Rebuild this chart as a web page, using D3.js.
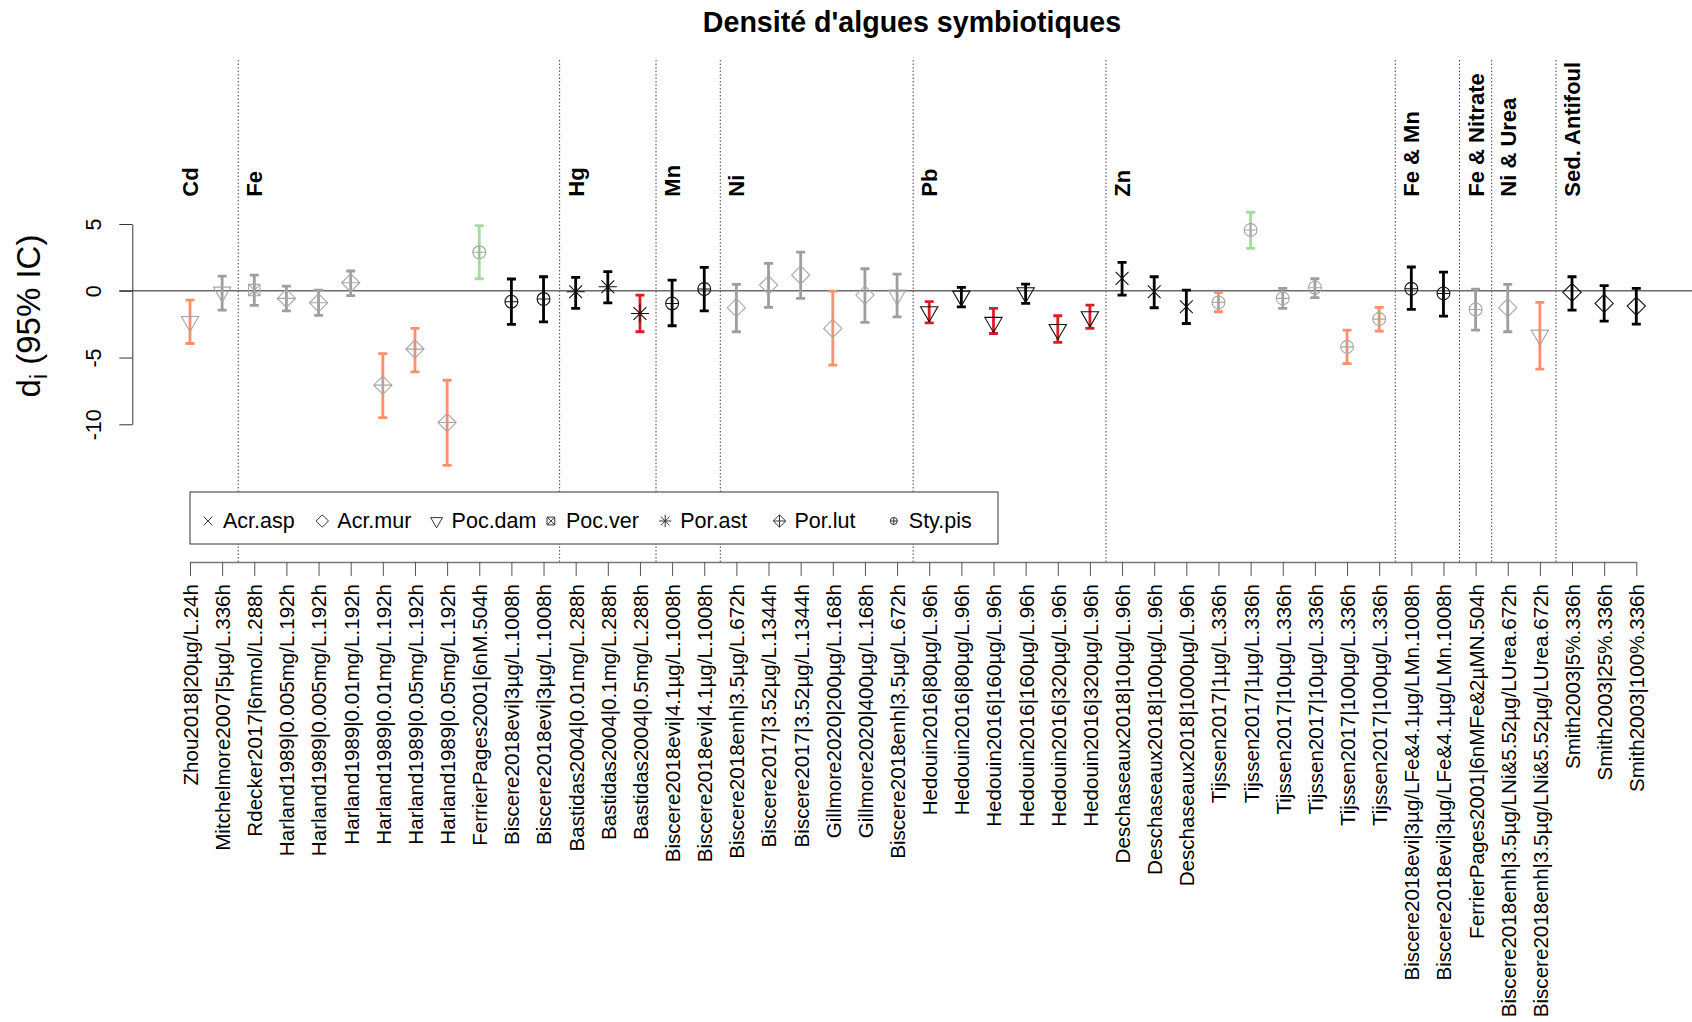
<!DOCTYPE html>
<html>
<head>
<meta charset="utf-8">
<script src="https://cdn.jsdelivr.net/npm/d3@7"></script>
<style>
  body { margin: 0; background: #fff; }
  svg { font-family: "Liberation Sans", Arial, sans-serif; }
</style>
</head>
<body>
<div id="wrapper"></div>
<script>

// data
const labels = [
  "Zhou2018|20µg/L.24h", "Mitchelmore2007|5µg/L.336h", "Rdecker2017|6nmol/L.288h",
  "Harland1989|0.005mg/L.192h", "Harland1989|0.005mg/L.192h", "Harland1989|0.01mg/L.192h",
  "Harland1989|0.01mg/L.192h", "Harland1989|0.05mg/L.192h", "Harland1989|0.05mg/L.192h",
  "FerrierPages2001|6nM.504h", "Biscere2018evi|3µg/L.1008h", "Biscere2018evi|3µg/L.1008h",
  "Bastidas2004|0.01mg/L.288h", "Bastidas2004|0.1mg/L.288h", "Bastidas2004|0.5mg/L.288h",
  "Biscere2018evi|4.1µg/L.1008h", "Biscere2018evi|4.1µg/L.1008h", "Biscere2018enh|3.5µg/L.672h",
  "Biscere2017|3.52µg/L.1344h", "Biscere2017|3.52µg/L.1344h", "Gillmore2020|200µg/L.168h",
  "Gillmore2020|400µg/L.168h", "Biscere2018enh|3.5µg/L.672h", "Hedouin2016|80µg/L.96h",
  "Hedouin2016|80µg/L.96h", "Hedouin2016|160µg/L.96h", "Hedouin2016|160µg/L.96h",
  "Hedouin2016|320µg/L.96h", "Hedouin2016|320µg/L.96h", "Deschaseaux2018|10µg/L.96h",
  "Deschaseaux2018|100µg/L.96h", "Deschaseaux2018|1000µg/L.96h", "Tijssen2017|1µg/L.336h",
  "Tijssen2017|1µg/L.336h", "Tijssen2017|10µg/L.336h", "Tijssen2017|10µg/L.336h",
  "Tijssen2017|100µg/L.336h", "Tijssen2017|100µg/L.336h",
  "Biscere2018evi|3µg/LFe&4.1µg/LMn.1008h", "Biscere2018evi|3µg/LFe&4.1µg/LMn.1008h",
  "FerrierPages2001|6nMFe&2µMN.504h",
  "Biscere2018enh|3.5µg/LNi&5.52µg/LUrea.672h", "Biscere2018enh|3.5µg/LNi&5.52µg/LUrea.672h",
  "Smith2003|5%.336h", "Smith2003|25%.336h", "Smith2003|100%.336h",
]

const means = [-2.3, -0.1, 0.05, -0.57, -0.9, 0.6, -7.07, -4.37, -9.87, 2.88,
  -0.82, -0.62, -0.07, 0.3, -1.7, -0.95, 0.13, -1.27, 0.43, 1.18,
  -2.82, -0.32, -0.33, -1.57, -0.4, -2.37, -0.15, -2.9, -1.95, 0.93,
  -0.07, -1.2, -0.87, 4.55, -0.57, 0.23, -4.2, -2.12, 0.15, -0.2,
  -1.4, -1.27, -3.32, -0.12, -0.95, -1.15]

const lower = [-3.95, -1.45, -1.1, -1.5, -1.85, -0.37, -9.5, -6.07, -13.07, 0.9,
  -2.52, -2.33, -1.32, -0.9, -3.07, -2.62, -1.5, -3.07, -1.25, -0.57,
  -5.57, -2.37, -1.95, -2.4, -1.2, -3.2, -0.95, -3.87, -2.82, -0.32,
  -1.27, -2.45, -1.57, 3.18, -1.32, -0.52, -5.45, -3.02, -1.4, -1.9,
  -2.95, -3.07, -5.87, -1.45, -2.27, -2.5]

const upper = [-0.7, 1.1, 1.17, 0.35, 0.05, 1.48, -4.7, -2.82, -6.7, 4.88,
  0.88, 1.05, 1.0, 1.43, -0.32, 0.8, 1.75, 0.48, 2.05, 2.9,
  -0.02, 1.65, 1.25, -0.82, 0.25, -1.32, 0.5, -1.87, -1.07, 2.13,
  1.05, 0.05, -0.12, 5.88, 0.18, 0.9, -2.95, -1.25, 1.78, 1.4,
  0.13, 0.48, -0.87, 1.05, 0.38, 0.18]

const species = [
  "Poc.dam", "Poc.dam", "Poc.ver", "Por.lut", "Por.lut", "Por.lut", "Por.lut", "Por.lut", "Por.lut", "Sty.pis",
  "Sty.pis", "Sty.pis", "Por.ast", "Por.ast", "Por.ast", "Sty.pis", "Sty.pis", "Acr.mur", "Acr.mur", "Acr.mur",
  "Acr.mur", "Acr.mur", "Poc.dam", "Poc.dam", "Poc.dam", "Poc.dam", "Poc.dam", "Poc.dam", "Poc.dam", "Acr.asp",
  "Acr.asp", "Acr.asp", "Sty.pis", "Sty.pis", "Sty.pis", "Sty.pis", "Sty.pis", "Sty.pis", "Sty.pis", "Sty.pis",
  "Sty.pis", "Acr.mur", "Poc.dam", "Acr.mur", "Acr.mur", "Acr.mur",
]

// "a" studies are drawn black/red, "b" studies grey/salmon/green
const studySet = [
  "b", "b", "b", "b", "b", "b", "b", "b", "b", "b",
  "a", "a", "a", "a", "a", "a", "a", "b", "b", "b",
  "b", "b", "b", "a", "a", "a", "a", "a", "a", "a",
  "a", "a", "b", "b", "b", "b", "b", "b", "a", "a",
  "b", "b", "b", "a", "a", "a",
]

const effect = [
  "neg", "ns", "ns", "ns", "ns", "ns", "neg", "neg", "neg", "pos",
  "ns", "ns", "ns", "ns", "neg", "ns", "ns", "ns", "ns", "ns",
  "neg", "ns", "ns", "neg", "ns", "neg", "ns", "neg", "neg", "ns",
  "ns", "ns", "neg", "pos", "ns", "ns", "neg", "neg", "ns", "ns",
  "ns", "ns", "neg", "ns", "ns", "ns",
]

const groupNames = ["Cd", "Fe", "Hg", "Mn", "Ni", "Pb", "Zn",
  "Fe & Mn", "Fe & Nitrate", "Ni & Urea", "Sed. Antifoul"]
const groupSizes = [2, 10, 3, 2, 6, 6, 9, 2, 1, 2, 3]

const legendNames = ["Acr.asp", "Acr.mur", "Poc.dam", "Poc.ver", "Por.ast", "Por.lut", "Sty.pis"]
const yTicks = [-10, -5, 0, 5]


const dataset = labels.map((label, i) => ({
  i: i + 1,
  label,
  mean: means[i],
  lo: lower[i],
  hi: upper[i],
  species: species[i],
  set: studySet[i],
  effect: effect[i],
}))

const xAccessor = d => d.i
const yAccessor = d => d.mean


// dimensions
const width = 1692
const height = 1022
const fontBase = 21.5

const wrapper = d3.select("#wrapper")
  .append("svg")
    .attr("width", width)
    .attr("height", height)


// scales
const xScale = d3.scaleLinear()
  .domain([1, labels.length])
  .range([190, 1636.3])

const yScale = d3.scaleLinear()
  .domain([-10, 5])
  .range([424.3, 224])

const axisY = 562

const barColor = d => {
  if (d.set == "a") return d.effect == "neg" ? "#d81f26" : "#000000"
  if (d.effect == "neg") return "#fc8f6c"
  if (d.effect == "pos") return "#a3dc9b"
  return "#9e9e9e"
}
const pointColor = d => d.set == "a" ? "#111111" : "#a6a6a6"


// R-like plotting symbols
function symbolPath(name, r) {
  const p = d3.path()
  const d = Math.SQRT2 * r
  if (name == "Acr.asp" || name == "Por.ast") {
    p.moveTo(-r, -r); p.lineTo(r, r)
    p.moveTo(-r, r); p.lineTo(r, -r)
  }
  if (name == "Por.ast") {
    p.moveTo(-d, 0); p.lineTo(d, 0)
    p.moveTo(0, -d); p.lineTo(0, d)
  }
  if (name == "Acr.mur" || name == "Por.lut") {
    p.moveTo(0, -d); p.lineTo(d, 0); p.lineTo(0, d); p.lineTo(-d, 0); p.closePath()
  }
  if (name == "Por.lut") {
    p.moveTo(-d, 0); p.lineTo(d, 0)
    p.moveTo(0, -d); p.lineTo(0, d)
  }
  if (name == "Poc.dam") {
    const xc = 1.3468 * r
    const yc = 0.7776 * r
    p.moveTo(-xc, -yc); p.lineTo(xc, -yc); p.lineTo(0, 1.5551 * r); p.closePath()
  }
  if (name == "Poc.ver") {
    const s = 0.886 * r
    p.rect(-s, -s, 2 * s, 2 * s)
    p.moveTo(-s, -s); p.lineTo(s, s)
    p.moveTo(-s, s); p.lineTo(s, -s)
  }
  if (name == "Sty.pis") {
    p.moveTo(r, 0); p.arc(0, 0, r, 0, 2 * Math.PI)
    p.moveTo(-r, 0); p.lineTo(r, 0)
    p.moveTo(0, -r); p.lineTo(0, r)
  }
  return p.toString()
}


// title
wrapper.append("text")
    .attr("x", 912)
    .attr("y", 32)
    .attr("text-anchor", "middle")
    .style("font-weight", "bold")
    .style("font-size", "28.6px")
    .text("Densité d'algues symbiotiques")


// group separators and names
const groupStarts = d3.cumsum([0, ...groupSizes]).slice(0, groupSizes.length)

wrapper.selectAll(".separator")
    .data(groupStarts.slice(1))
  .join("line")
    .attr("class", "separator")
    .attr("x1", d => xScale(d + 0.5))
    .attr("x2", d => xScale(d + 0.5))
    .attr("y1", 60)
    .attr("y2", axisY)
    .attr("stroke", "#444")
    .attr("stroke-width", 1)
    .attr("stroke-dasharray", "1.5,2")

wrapper.selectAll(".groupName")
    .data(groupNames)
  .join("text")
    .attr("class", "groupName")
    .attr("transform", (d, i) => `translate(${xScale(groupStarts[i] + 1)}, 196.7) rotate(-90)`)
    .attr("dy", "0.36em")
    .style("font-weight", "bold")
    .style("font-size", "22px")
    .text(d => d)


// zero line
wrapper.append("line")
    .attr("x1", 119.3)
    .attr("x2", width)
    .attr("y1", yScale(0))
    .attr("y2", yScale(0))
    .attr("stroke", "#6a6a6a")
    .attr("stroke-width", 1.5)


// error bars
const capHalf = 4.5
const bars = wrapper.append("g")
    .attr("fill", "none")
    .attr("stroke-width", 2.8)

bars.selectAll("path")
    .data(dataset)
  .join("path")
    .attr("stroke", barColor)
    .attr("d", d => {
      const x = xScale(xAccessor(d))
      const y1 = yScale(d.lo)
      const y2 = yScale(d.hi)
      return `M${x},${y1}V${y2}`
        + `M${x - capHalf},${y1}H${x + capHalf}`
        + `M${x - capHalf},${y2}H${x + capHalf}`
    })


// points
const symbolUnit = 6.43
wrapper.append("g")
    .attr("fill", "none")
    .attr("stroke-width", 1.1)
  .selectAll("path")
    .data(dataset)
  .join("path")
    .attr("transform", d => `translate(${xScale(xAccessor(d))}, ${yScale(yAccessor(d))})`)
    .attr("stroke", pointColor)
    .attr("d", d => symbolPath(d.species, symbolUnit))


// y axis
const yAxisGenerator = d3.axisLeft()
  .scale(yScale)
  .tickValues(yTicks)
  .tickSize(13)
  .tickSizeOuter(0)
  .tickFormat(d => d.toString())

const yAxis = wrapper.append("g")
    .attr("transform", "translate(132.3, 0)")
    .call(yAxisGenerator)

yAxis.select(".domain").attr("stroke", "#333")
yAxis.selectAll(".tick line").attr("stroke", "#333")
yAxis.selectAll(".tick text")
    .attr("x", null)
    .attr("dy", null)
    .attr("transform", "translate(-31, 0) rotate(-90)")
    .attr("text-anchor", "middle")
    .attr("fill", "#000")
    .style("font-size", `${fontBase}px`)
    .style("font-family", "inherit")

const yLabel = wrapper.append("text")
    .attr("transform", "translate(40, 316) rotate(-90)")
    .attr("text-anchor", "middle")
    .style("font-size", "33px")
yLabel.append("tspan").text("d")
yLabel.append("tspan")
    .attr("dy", "0.3em")
    .style("font-size", "23px")
    .text("i")
yLabel.append("tspan")
    .attr("dy", "-0.2em")
    .text(" (95% IC)")


// x axis
const xAxisGenerator = d3.axisBottom()
  .scale(xScale)
  .tickValues(dataset.map(xAccessor))
  .tickSize(14)
  .tickSizeOuter(0)
  .tickFormat(d => labels[d - 1])

const xAxis = wrapper.append("g")
    .attr("transform", `translate(0, ${axisY})`)
    .call(xAxisGenerator)

xAxis.select(".domain").attr("stroke", "#777").attr("stroke-width", 1.4)
xAxis.selectAll(".tick line").attr("stroke", "#555")
xAxis.selectAll(".tick text")
    .attr("y", 0)
    .attr("x", -22)
    .attr("dy", "0.36em")
    .attr("transform", "rotate(-90)")
    .attr("text-anchor", "end")
    .attr("fill", "#000")
    .style("font-size", "20.6px")
    .style("font-family", "inherit")


// legend
const legend = wrapper.append("g")

legend.append("rect")
    .attr("x", 190)
    .attr("y", 492)
    .attr("width", 808)
    .attr("height", 52)
    .attr("fill", "#fff")
    .attr("stroke", "#333")
    .attr("stroke-width", 1)

const legendStep = 114.3
const legendItems = legend.selectAll(".legendItem")
    .data(legendNames)
  .join("g")
    .attr("class", "legendItem")
    .attr("transform", (d, i) => `translate(${223 + i * legendStep}, 0)`)

legendItems.append("path")
    .attr("transform", "translate(-15, 521)")
    .attr("fill", "none")
    .attr("stroke", "#333")
    .attr("stroke-width", 1)
    .attr("d", d => symbolPath(d, symbolUnit * (d == "Sty.pis" ? 0.55 : 0.68)))

legendItems.append("text")
    .attr("y", 528)
    .style("font-size", `${fontBase}px`)
    .text(d => d)

</script>
</body>
</html>
